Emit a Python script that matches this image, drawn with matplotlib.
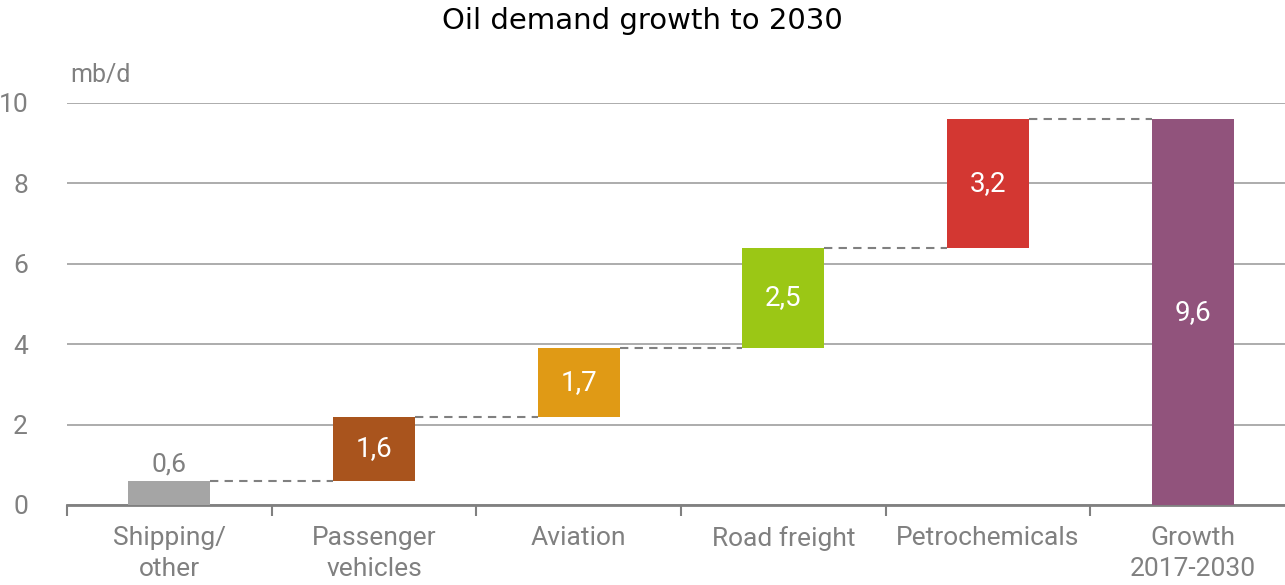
import matplotlib
matplotlib.use("Agg")
import matplotlib.pyplot as plt

categories = ["Shipping/\nother", "Passenger\nvehicles", "Aviation", "Road freight", "Petrochemicals", "Growth\n2017-2030"]
values = [0.6, 1.6, 1.7, 2.5, 3.2, 9.6]
labels = ["0,6", "1,6", "1,7", "2,5", "3,2", "9,6"]
colors = ["#A5A5A5", "#A9541D", "#E09A15", "#9BC715", "#D33732", "#91537C"]

plt.rcParams['font.family'] = ['Liberation Sans Narrow', 'Roboto', 'DejaVu Sans']
grey = "#808080"

# waterfall bottoms: steps stack up, last bar is the total from zero
bottoms = []
run = 0.0
for v in values[:-1]:
    bottoms.append(run)
    run += v
bottoms.append(0.0)
tops = [b + v for b, v in zip(bottoms, values)]

fig = plt.figure(figsize=(12.85, 5.85), dpi=100)
ax = fig.add_axes([67 / 1285, 1 - 505 / 585, 1228 / 1285, 402 / 585])

x = list(range(len(categories)))
w = 0.4
ax.bar(x, values, bottom=bottoms, width=w, color=colors, zorder=3)

# dashed connectors
for i in range(len(values) - 1):
    ax.plot([i + w / 2, i + 1 - w / 2], [tops[i], tops[i]], ls=(0, (4, 3)),
            color=grey, lw=1.5, zorder=2)

for i, lab in enumerate(labels):
    if i == 0:
        ax.text(i, tops[i] + 0.1, lab, ha="center", va="bottom", color=grey, fontsize=19)
    else:
        ax.text(i, bottoms[i] + values[i] / 2, lab, ha="center", va="center",
                color="white", fontsize=20)

ax.set_xlim(-0.5, 5.5)
ax.set_ylim(0, 10)
ax.set_yticks([0, 2, 4, 6, 8, 10])
ax.yaxis.grid(True, color="#A6A6A6", lw=1.3, zorder=0)
ax.tick_params(axis="y", length=0, labelsize=19, labelcolor=grey, pad=28)

ax.set_xticks(x)
ax.set_xticklabels(categories, fontsize=19, color=grey, linespacing=1.4)
ax.set_xticks([i - 0.5 for i in range(len(categories) + 1)], minor=True)
ax.tick_params(axis="x", which="major", length=0, pad=15)
ax.tick_params(axis="x", which="minor", length=8, width=1.5, color=grey, direction="out")

for s in ["top", "right", "left"]:
    ax.spines[s].set_visible(False)
ax.spines["bottom"].set_color(grey)
ax.spines["bottom"].set_linewidth(2)
ax.set_axisbelow(True)

fig.text(70 / 1285, 1 - 75 / 585, "mb/d", color=grey, fontsize=18, va="center", ha="left")
fig.text(0.5, 1 - 21 / 585, "Oil demand growth to 2030", ha="center", va="center",
         fontsize=21, family=["DejaVu Sans"], color="black")

fig.savefig("out.png", dpi=100)
